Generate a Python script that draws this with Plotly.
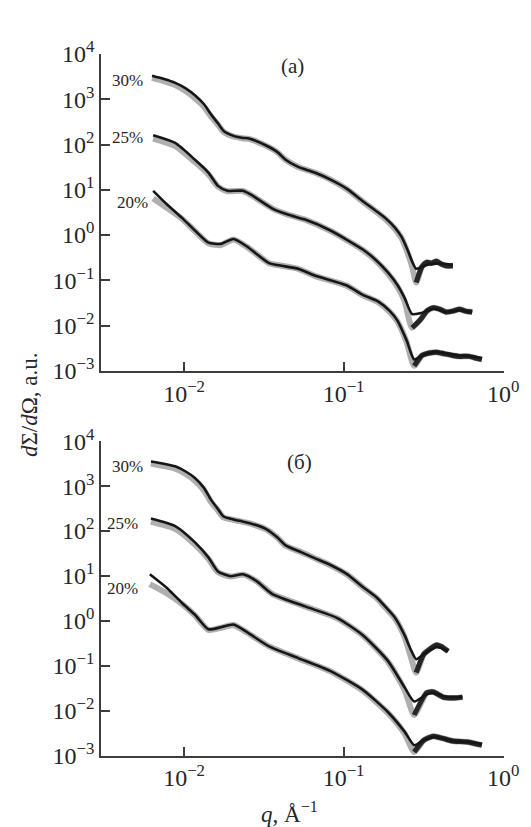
import numpy as np
import plotly.graph_objects as go

W, H = 531, 827

# ---------------- Panel (a) ----------------
Q_A30 = [0.0063, 0.0075, 0.0088, 0.0103, 0.0117, 0.0133, 0.0148, 0.0163, 0.0177, 0.0204, 0.0230,
         0.0258, 0.0327, 0.0385, 0.0433, 0.0519, 0.0658, 0.0822, 0.105, 0.132, 0.160, 0.182, 0.209,
         0.231, 0.251, 0.269, 0.285, 0.310, 0.332, 0.356, 0.382, 0.409, 0.439, 0.484]
FIT_A30 = [3300, 2800, 2300, 1715, 1220, 783, 457, 294, 199, 155, 141, 134, 95, 68, 46, 32, 24, 17,
           10.5, 5.6, 3.4, 2.4, 1.48, 0.91, 0.48, 0.26, 0.18, 0.20, 0.22, 0.23, 0.235, 0.235, 0.23, 0.22]
EXP_A30 = [2950, 2500, 2050, 1500, 1050, 690, 410, 275, 190, 150, 138, 132, 93, 67, 46, 32, 24, 17,
           10.3, 5.5, 3.3, 2.3, 1.4, 0.85, 0.42, 0.20, 0.09, 0.20, 0.25, 0.24, 0.265, 0.23, 0.21, 0.21]

Q_A25 = [0.0064, 0.0088, 0.0117, 0.0142, 0.0163, 0.0187, 0.0234, 0.0269, 0.0356, 0.0452, 0.0573,
         0.0822, 0.132, 0.158, 0.190, 0.218, 0.241, 0.269, 0.305, 0.332, 0.366, 0.403, 0.439, 0.484,
         0.533, 0.581, 0.640]
FIT_A25 = [160, 108, 46, 24, 12.2, 9.5, 9.5, 7.4, 3.9, 2.8, 2.2, 1.28, 0.48, 0.29, 0.148, 0.078,
           0.041, 0.018, 0.019, 0.021, 0.024, 0.022, 0.020, 0.021, 0.022, 0.021, 0.020]
EXP_A25 = [135, 92, 41, 22, 11.8, 9.3, 9.4, 7.3, 3.9, 2.8, 2.2, 1.25, 0.47, 0.28, 0.14, 0.072,
           0.035, 0.009, 0.014, 0.021, 0.025, 0.023, 0.020, 0.021, 0.023, 0.021, 0.020]

Q_A20 = [0.0064, 0.0078, 0.0097, 0.0115, 0.0142, 0.0170, 0.0204, 0.0248, 0.0341, 0.0409, 0.0519,
         0.0658, 0.104, 0.132, 0.165, 0.195, 0.218, 0.248, 0.277, 0.310, 0.345, 0.382, 0.426, 0.484,
         0.533, 0.614, 0.686, 0.736]
FIT_A20 = [9.5, 4.8, 2.4, 1.34, 0.68, 0.64, 0.82, 0.56, 0.24, 0.21, 0.18, 0.128, 0.078, 0.048,
           0.034, 0.021, 0.0128, 0.0048, 0.0018, 0.0022, 0.0025, 0.0026, 0.0025, 0.0023, 0.0022,
           0.0021, 0.0020, 0.0019]
EXP_A20 = [6.4, 4.0, 2.3, 1.3, 0.66, 0.60, 0.80, 0.55, 0.24, 0.21, 0.18, 0.126, 0.077, 0.047,
           0.033, 0.020, 0.0122, 0.0044, 0.0013, 0.0022, 0.0025, 0.0026, 0.0024, 0.0022, 0.0021,
           0.0021, 0.0019, 0.0018]

# ---------------- Panel (б) ----------------
Q_B30 = [0.0062, 0.0075, 0.0088, 0.0103, 0.0117, 0.0133, 0.0148, 0.0163, 0.0177, 0.0204, 0.0230,
         0.0258, 0.0327, 0.0385, 0.0433, 0.0541, 0.0658, 0.0822, 0.105, 0.132, 0.160, 0.182, 0.209,
         0.241, 0.265, 0.285, 0.318, 0.345, 0.382, 0.409, 0.452]
FIT_B30 = [3540, 3150, 2770, 2100, 1530, 930, 490, 310, 211, 182, 165, 150, 111, 72, 48, 34, 25,
           17.8, 11, 5.7, 3.4, 2.1, 1.2, 0.48, 0.22, 0.14, 0.18, 0.22, 0.26, 0.25, 0.21]
EXP_B30 = [3200, 2800, 2450, 1850, 1330, 820, 440, 290, 200, 178, 162, 148, 109, 71, 47, 34, 25,
           17.5, 10.8, 5.6, 3.3, 2.0, 1.15, 0.44, 0.15, 0.07, 0.18, 0.23, 0.29, 0.27, 0.21]

Q_B25 = [0.0062, 0.0088, 0.0117, 0.0142, 0.0163, 0.0195, 0.0234, 0.0285, 0.0356, 0.0573, 0.0907,
         0.132, 0.190, 0.241, 0.277, 0.332, 0.366, 0.420, 0.484, 0.556]
FIT_B25 = [191, 129, 56, 26, 12.6, 9.9, 10.9, 7.7, 4.0, 2.1, 1.17, 0.48, 0.127, 0.033, 0.016,
           0.023, 0.025, 0.021, 0.020, 0.020]
EXP_B25 = [160, 112, 50, 24, 12.2, 9.7, 10.7, 7.6, 4.0, 2.1, 1.15, 0.47, 0.122, 0.029, 0.008,
           0.025, 0.026, 0.020, 0.019, 0.020]

Q_B20 = [0.0061, 0.0079, 0.0097, 0.0117, 0.0142, 0.0170, 0.0204, 0.0248, 0.0341, 0.0519, 0.0822,
         0.132, 0.190, 0.241, 0.277, 0.318, 0.366, 0.420, 0.484, 0.597, 0.736]
FIT_B20 = [10.9, 5.2, 2.5, 1.37, 0.65, 0.72, 0.83, 0.56, 0.27, 0.148, 0.077, 0.029, 0.0092,
           0.0034, 0.0017, 0.0022, 0.0026, 0.0024, 0.0021, 0.0020, 0.0018]
EXP_B20 = [6.6, 4.0, 2.4, 1.33, 0.63, 0.70, 0.81, 0.55, 0.27, 0.146, 0.076, 0.028, 0.0088,
           0.0031, 0.0012, 0.0022, 0.0027, 0.0024, 0.0021, 0.0020, 0.0017]

# ---------------- Ticks and labels ----------------
Y_EXPONENTS = [-3, -2, -1, 0, 1, 2, 3, 4]
X_EXPONENTS = [-2, -1, 0]
CONC_LABELS = ["30%", "25%", "20%"]
PANEL_LABELS = ["(a)", "(б)"]
Y_TITLE = "<i>d</i>Σ/<i>d</i>Ω, a.u."
X_TITLE = "<i>q</i>, Å<sup>−1</sup>"


def pw(e):
    return "10<sup>" + ("−" if e < 0 else "") + str(abs(e)) + "</sup>"


SERIF = "Liberation Serif"
TXT = "#262626"
AXC = "#3d3d3d"

fig = go.Figure()

panels = [
    ("x", "y", [(Q_A30, FIT_A30, EXP_A30), (Q_A25, FIT_A25, EXP_A25), (Q_A20, FIT_A20, EXP_A20)]),
    ("x2", "y2", [(Q_B30, FIT_B30, EXP_B30), (Q_B25, FIT_B25, EXP_B25), (Q_B20, FIT_B20, EXP_B20)]),
]

for xa, ya, curves in panels:
    for q, fit, exp in curves:
        q = np.array(q)
        fit = np.array(fit, dtype=float)
        exp = np.array(exp, dtype=float)
        k = int(np.argmin(exp))
        # experimental points: grey band of open circles
        fig.add_trace(go.Scatter(x=q, y=exp, mode="lines", xaxis=xa, yaxis=ya,
                                 line=dict(color="rgba(110,110,110,0.55)", width=6,
                                           shape="spline", smoothing=0.6),
                                 showlegend=False, hoverinfo="skip"))
        # noisy high-q part of the data (dense, dark)
        fig.add_trace(go.Scatter(x=q[k:], y=exp[k:], mode="lines", xaxis=xa, yaxis=ya,
                                 line=dict(color="#262626", width=5, shape="spline", smoothing=0.6),
                                 showlegend=False, hoverinfo="skip"))
        # model fit
        fig.add_trace(go.Scatter(x=q, y=fit, mode="lines", xaxis=xa, yaxis=ya,
                                 line=dict(color="#161616", width=2.6, shape="spline", smoothing=0.6),
                                 showlegend=False))

xdom = [96 / W, 511 / W]
ydom_a = [1 - 359 / H, 1 - 30 / H]
ydom_b = [1 - 758 / H, 1 - 432 / H]

common_x = dict(type="log", domain=xdom, range=[-2.52, 0.003],
                tickvals=[10.0 ** e for e in X_EXPONENTS], ticktext=[pw(e) for e in X_EXPONENTS],
                ticks="inside", ticklen=9, tickwidth=1.6, tickcolor=AXC,
                showline=True, linecolor=AXC, linewidth=2, showgrid=False, zeroline=False,
                tickfont=dict(family=SERIF, size=24, color=TXT))
common_y = dict(type="log", range=[-3, 4],
                tickvals=[10.0 ** e for e in Y_EXPONENTS], ticktext=[pw(e) for e in Y_EXPONENTS],
                ticks="inside", ticklen=9, tickwidth=1.6, tickcolor=AXC,
                showline=True, linecolor=AXC, linewidth=2, showgrid=False, zeroline=False,
                tickfont=dict(family=SERIF, size=24, color=TXT))

fig.update_layout(
    width=W, height=H,
    margin=dict(l=0, r=0, t=0, b=0),
    paper_bgcolor="white", plot_bgcolor="white",
    xaxis=dict(common_x, anchor="y"),
    yaxis=dict(common_y, domain=ydom_a, anchor="x"),
    xaxis2=dict(common_x, anchor="y2"),
    yaxis2=dict(common_y, domain=ydom_b, anchor="x2"),
)

ann = []
pos_a = [(123, 58), (123, 117), (128, 184)]
pos_b = [(123, 458), (118, 517), (118, 585)]
for lab, (px, py) in zip(CONC_LABELS, pos_a):
    ann.append(dict(x=px / W, y=1 - py / H, xref="paper", yref="paper", text=lab, showarrow=False,
                    font=dict(family=SERIF, size=17, color=TXT), xanchor="center", yanchor="middle"))
for lab, (px, py) in zip(CONC_LABELS, pos_b):
    ann.append(dict(x=px / W, y=1 - py / H, xref="paper", yref="paper", text=lab, showarrow=False,
                    font=dict(family=SERIF, size=17, color=TXT), xanchor="center", yanchor="middle"))
for lab, (px, py) in zip(PANEL_LABELS, [(293, 43), (301, 453)]):
    ann.append(dict(x=px / W, y=1 - py / H, xref="paper", yref="paper", text=lab, showarrow=False,
                    font=dict(family=SERIF, size=21, color=TXT), xanchor="center", yanchor="middle"))
ann.append(dict(x=22 / W, y=1 - 394 / H, xref="paper", yref="paper", text=Y_TITLE, showarrow=False,
                textangle=-90, font=dict(family=SERIF, size=23, color=TXT),
                xanchor="center", yanchor="middle"))
ann.append(dict(x=290 / W, y=1 - 800 / H, xref="paper", yref="paper", text=X_TITLE, showarrow=False,
                font=dict(family=SERIF, size=23, color=TXT), xanchor="center", yanchor="top"))
fig.update_layout(annotations=ann)

fig.write_html("out.html")
